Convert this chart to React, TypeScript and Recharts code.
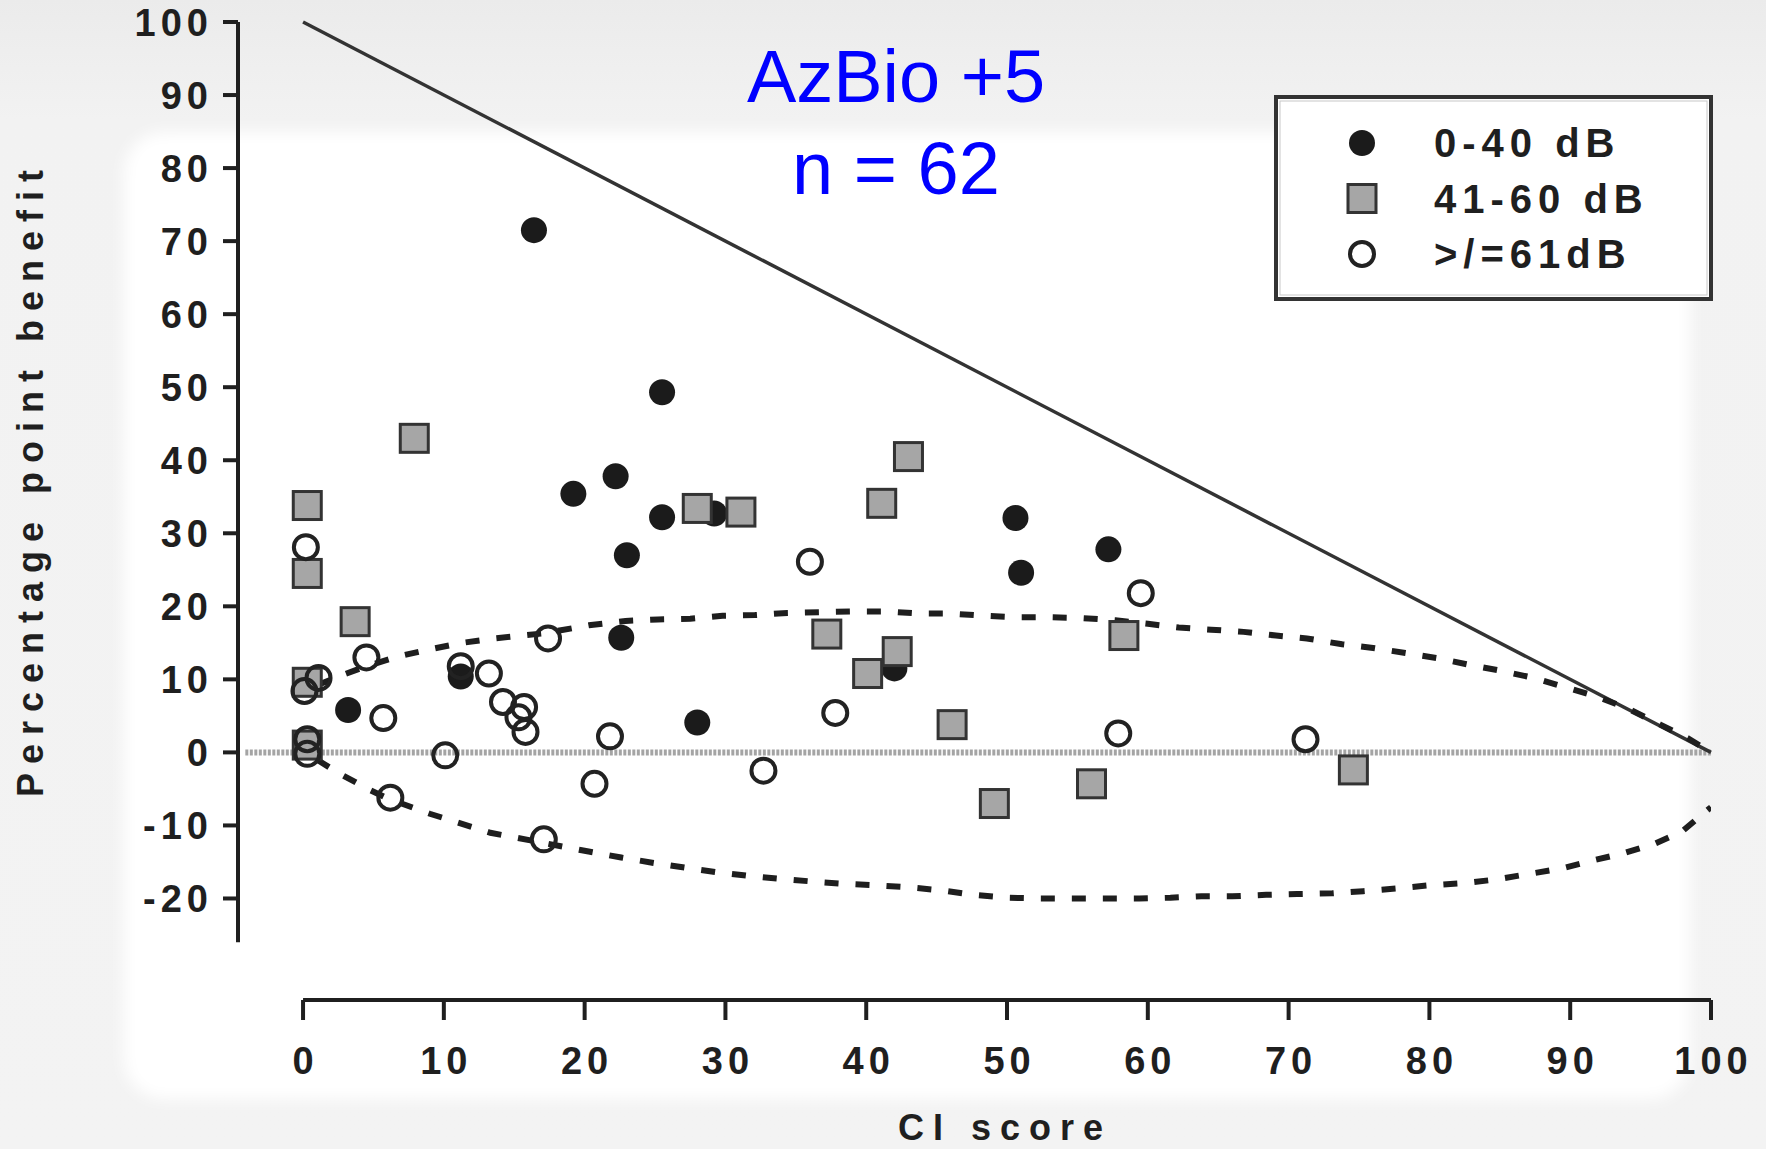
import { ScatterChart, Scatter, XAxis, YAxis, ReferenceLine } from "recharts";

type Pt = { x: number; y: number };

const FONT = "'Liberation Sans', Arial, sans-serif";
const INK = "#1f1f1f";

// axis extents (the axes are offset from the data region, Prism style)
const X_MIN = -4.62;
const Y_MIN = -33.9;
const Y_AXIS_BOTTOM = -26;
const xTicks = [0, 10, 20, 30, 40, 50, 60, 70, 80, 90, 100];
const yTicks = [-20, -10, 0, 10, 20, 30, 40, 50, 60, 70, 80, 90, 100];

// 0-40 dB
const mildLoss: Pt[] = [
  { x: 16.4, y: 71.5 }, { x: 25.5, y: 49.3 }, { x: 19.2, y: 35.4 }, { x: 22.2, y: 37.8 },
  { x: 25.5, y: 32.2 }, { x: 29.2, y: 32.7 }, { x: 23.0, y: 27.0 }, { x: 22.6, y: 15.7 },
  { x: 28.0, y: 4.1 }, { x: 50.6, y: 32.1 }, { x: 51.0, y: 24.6 }, { x: 57.2, y: 27.8 },
  { x: 42.0, y: 11.5 }, { x: 11.2, y: 10.4 }, { x: 3.2, y: 5.8 },
];

// 41-60 dB
const moderateLoss: Pt[] = [
  { x: 0.3, y: 33.8 }, { x: 0.3, y: 24.5 }, { x: 0.3, y: 9.6 }, { x: 0.3, y: 1.0 },
  { x: 3.7, y: 17.9 }, { x: 7.9, y: 43.0 }, { x: 28.0, y: 33.4 }, { x: 31.1, y: 32.9 },
  { x: 43.0, y: 40.5 }, { x: 41.1, y: 34.1 }, { x: 37.2, y: 16.2 }, { x: 40.1, y: 10.8 },
  { x: 42.2, y: 13.8 }, { x: 46.1, y: 3.8 }, { x: 49.1, y: -7.0 }, { x: 56.0, y: -4.3 },
  { x: 58.3, y: 16.0 }, { x: 74.6, y: -2.4 },
];

// >/=61 dB
const severeLoss: Pt[] = [
  { x: 0.2, y: 28.1 }, { x: 1.1, y: 10.2 }, { x: 0.1, y: 8.4 }, { x: 0.3, y: 1.8 },
  { x: 0.3, y: -0.2 }, { x: 4.5, y: 13.0 }, { x: 5.7, y: 4.7 }, { x: 6.2, y: -6.2 },
  { x: 10.1, y: -0.4 }, { x: 11.2, y: 11.8 }, { x: 13.2, y: 10.8 }, { x: 14.2, y: 6.9 },
  { x: 15.7, y: 6.2 }, { x: 15.3, y: 4.8 }, { x: 15.8, y: 2.8 }, { x: 17.4, y: 15.6 },
  { x: 17.1, y: -11.9 }, { x: 20.7, y: -4.3 }, { x: 21.8, y: 2.2 }, { x: 32.7, y: -2.5 },
  { x: 36.0, y: 26.1 }, { x: 37.8, y: 5.4 }, { x: 57.9, y: 2.6 }, { x: 59.5, y: 21.8 },
  { x: 71.2, y: 1.8 },
];

// critical-difference bounds
const upperBound: Pt[] = [
  { x: 1, y: 9.2 }, { x: 2.4, y: 10.3 }, { x: 4.5, y: 11.8 }, { x: 6.9, y: 13.2 },
  { x: 9.0, y: 14.1 }, { x: 11.3, y: 15.0 }, { x: 13.6, y: 15.6 }, { x: 17.1, y: 16.3 },
  { x: 20.3, y: 17.4 }, { x: 22.9, y: 18.0 }, { x: 25.2, y: 18.2 }, { x: 27.5, y: 18.3 },
  { x: 29.8, y: 18.7 }, { x: 32.1, y: 18.8 }, { x: 34.4, y: 19.1 }, { x: 36.7, y: 19.2 },
  { x: 39.0, y: 19.3 }, { x: 41.5, y: 19.3 }, { x: 43.8, y: 19.0 }, { x: 46.1, y: 19.0 },
  { x: 48.4, y: 18.7 }, { x: 50.7, y: 18.5 }, { x: 53.0, y: 18.5 }, { x: 55.3, y: 18.4 },
  { x: 57.7, y: 18.1 }, { x: 60.0, y: 17.6 }, { x: 62.2, y: 17.1 }, { x: 64.5, y: 16.8 },
  { x: 66.8, y: 16.5 }, { x: 69.1, y: 16.0 }, { x: 71.3, y: 15.6 }, { x: 73.8, y: 14.8 },
  { x: 76.0, y: 14.3 }, { x: 78.3, y: 13.6 }, { x: 80.6, y: 12.9 }, { x: 82.8, y: 12.0 },
  { x: 85.0, y: 11.2 }, { x: 87.4, y: 10.2 }, { x: 89.7, y: 8.9 }, { x: 91.8, y: 7.7 },
  { x: 94.1, y: 6.0 }, { x: 96.4, y: 3.8 }, { x: 98.4, y: 1.9 }, { x: 100, y: 0 },
];

const lowerBound: Pt[] = [
  { x: 1, y: -1.0 }, { x: 2.5, y: -2.8 }, { x: 4.6, y: -5.0 }, { x: 6.0, y: -6.3 },
  { x: 9.0, y: -8.4 }, { x: 11.0, y: -9.6 }, { x: 13.3, y: -11.0 }, { x: 17.1, y: -12.4 },
  { x: 19.8, y: -13.4 }, { x: 22.6, y: -14.4 }, { x: 24.8, y: -15.1 }, { x: 27.2, y: -15.8 },
  { x: 29.4, y: -16.4 }, { x: 31.6, y: -16.9 }, { x: 33.8, y: -17.3 }, { x: 36.3, y: -17.7 },
  { x: 38.5, y: -18.0 }, { x: 40.7, y: -18.2 }, { x: 43.2, y: -18.5 }, { x: 45.4, y: -18.9 },
  { x: 47.6, y: -19.5 }, { x: 50.1, y: -19.9 }, { x: 52.3, y: -20.0 }, { x: 54.7, y: -20.0 },
  { x: 56.9, y: -20.0 }, { x: 59.4, y: -20.0 }, { x: 61.6, y: -19.9 }, { x: 63.8, y: -19.7 },
  { x: 66.0, y: -19.7 }, { x: 68.4, y: -19.5 }, { x: 70.6, y: -19.4 }, { x: 73.1, y: -19.3 },
  { x: 75.3, y: -19.0 }, { x: 77.8, y: -18.6 }, { x: 80.0, y: -18.2 }, { x: 82.5, y: -17.9 },
  { x: 84.7, y: -17.4 }, { x: 87.2, y: -16.6 }, { x: 89.4, y: -15.9 }, { x: 91.6, y: -14.8 },
  { x: 93.8, y: -13.8 }, { x: 96.0, y: -12.5 }, { x: 97.9, y: -10.9 }, { x: 100, y: -7.5 },
];

// line of maximum possible benefit
const maxBenefit: Pt[] = [{ x: 0, y: 100 }, { x: 100, y: 0 }];
const zeroLine: Pt[] = [{ x: -4.1, y: 0 }, { x: 100, y: 0 }];

const legendItems = ["0-40 dB", "41-60 dB", ">/=61dB"];

const tickFont = { fontFamily: FONT, fontSize: 38, fontWeight: 700, fill: INK, letterSpacing: "5px" };
const titleFont = { fontFamily: FONT, fontSize: 36, fontWeight: 700, color: INK, letterSpacing: "9px", lineHeight: "36px" };
const boundLine = { stroke: "#1e1e1e", strokeWidth: 6, strokeDasharray: "14 17" };

const FilledDot = (p: any) => <circle cx={p.cx} cy={p.cy} r={13} fill="#1b1b1b" />;
const GraySquare = (p: any) => (
  <rect x={p.cx - 14} y={p.cy - 14} width={28} height={28} fill="#a6a6a6" stroke="#333" strokeWidth={3} />
);
const OpenDot = (p: any) => (
  <circle cx={p.cx} cy={p.cy} r={12} fill="none" stroke="#222" strokeWidth={4} />
);
const NoDot = () => <g />;

const XTick = ({ x, y, payload }: any) => (
  <text x={x + 2.5} y={y} dy="0.71em" textAnchor="middle" style={tickFont}>
    {payload.value}
  </text>
);
const YTick = ({ x, y, payload }: any) => (
  <text x={x + 5} y={y} dy="0.36em" textAnchor="end" style={tickFont}>
    {payload.value}
  </text>
);

function LegendBox() {
  const symbols = [FilledDot, GraySquare, OpenDot];
  return (
    <svg style={{ position: "absolute", left: 1270, top: 91 }} width={448} height={214}>
      <rect x={6} y={6} width={435} height={202} fill="#fff" stroke="#333" strokeWidth={4} />
      <rect x={10} y={10} width={427} height={194} fill="none" stroke="#c8c8c8" strokeWidth={1} />
      {legendItems.map((label, i) => {
        const cy = 52 + i * 55.5;
        const Sym = symbols[i];
        return (
          <g key={label}>
            <Sym cx={92} cy={cy} />
            <text x={164} y={cy + 14} style={{ ...tickFont, fontSize: 40, letterSpacing: "6px" }}>
              {label}
            </text>
          </g>
        );
      })}
    </svg>
  );
}

export default function App() {
  return (
    <div
      style={{
        position: "absolute",
        left: 0,
        top: 0,
        width: 1766,
        height: 1149,
        overflow: "hidden",
        background: "linear-gradient(#ebebeb, #f2f2f2 120px, #f3f3f3)",
        fontFamily: FONT,
      }}
    >
      <div
        style={{
          position: "absolute",
          left: 124,
          top: 132,
          width: 1566,
          height: 967,
          background: "#fff",
          borderRadius: 40,
          filter: "blur(8px)",
        }}
      />
      <div style={{ position: "absolute", left: 0, top: 0 }}>
        <ScatterChart width={1766} height={1149} margin={{ top: 22, right: 55, bottom: 49, left: 38 }}>
          <XAxis
            type="number"
            dataKey="x"
            domain={[X_MIN, 100]}
            ticks={xTicks}
            interval={0}
            allowDataOverflow
            axisLine={false}
            tickLine={{ stroke: INK, strokeWidth: 4 }}
            tickSize={20}
            tickMargin={27}
            height={100}
            tick={<XTick />}
          />
          <YAxis
            type="number"
            dataKey="y"
            domain={[Y_MIN, 100]}
            ticks={yTicks}
            interval={0}
            allowDataOverflow
            axisLine={false}
            tickLine={{ stroke: INK, strokeWidth: 4 }}
            tickSize={15}
            tickMargin={15}
            width={200}
            tick={<YTick />}
          />
          {/* offset axis lines */}
          <ReferenceLine
            segment={[{ x: X_MIN, y: Y_AXIS_BOTTOM }, { x: X_MIN, y: 100 }]}
            stroke={INK}
            strokeWidth={4}
            ifOverflow="visible"
          />
          <ReferenceLine
            segment={[{ x: 0, y: Y_MIN }, { x: 100, y: Y_MIN }]}
            stroke={INK}
            strokeWidth={4}
            ifOverflow="visible"
          />
          <ReferenceLine
            segment={[zeroLine[0], zeroLine[1]]}
            stroke="#a4a4a4"
            strokeWidth={6}
            strokeDasharray="3 1.5"
            ifOverflow="visible"
          />
          <ReferenceLine
            segment={[maxBenefit[0], maxBenefit[1]]}
            stroke="#333"
            strokeWidth={3.5}
            ifOverflow="visible"
          />
          <Scatter data={upperBound} line={boundLine} shape={NoDot} isAnimationActive={false} />
          <Scatter data={lowerBound} line={boundLine} shape={NoDot} isAnimationActive={false} />
          <Scatter data={mildLoss} shape={FilledDot} isAnimationActive={false} />
          <Scatter data={moderateLoss} shape={GraySquare} isAnimationActive={false} />
          <Scatter data={severeLoss} shape={OpenDot} isAnimationActive={false} />
        </ScatterChart>
      </div>

      <div
        style={{
          position: "absolute",
          left: 596,
          top: 31,
          width: 600,
          textAlign: "center",
          color: "#0000ff",
          fontSize: 74,
          lineHeight: "92px",
        }}
      >
        AzBio +5
        <br />n = 62
      </div>

      <div
        style={{
          ...titleFont,
          position: "absolute",
          left: 31,
          top: 479,
          whiteSpace: "nowrap",
          transform: "translate(-50%, -50%) rotate(-90deg)",
        }}
      >
        Percentage point benefit
      </div>
      <div
        style={{
          ...titleFont,
          position: "absolute",
          left: 705,
          top: 1110,
          width: 600,
          textAlign: "center",
          whiteSpace: "nowrap",
        }}
      >
        CI score
      </div>

      <LegendBox />
    </div>
  );
}
